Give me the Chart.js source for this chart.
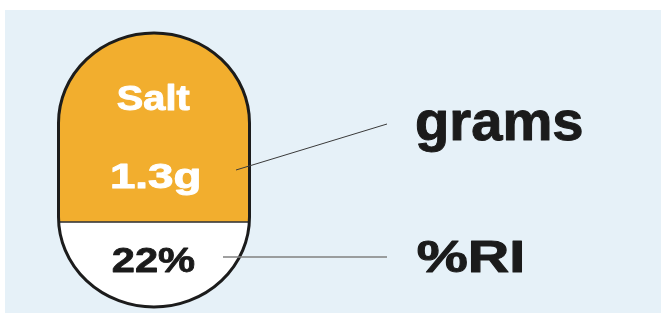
<!DOCTYPE html>
<html>
<head>
<meta charset="utf-8">
<script src="https://cdn.jsdelivr.net/npm/chart.js@4"></script>
<style>
    html, body { margin: 0; padding: 0; background: #fff; }
    #wrap { width: 661px; height: 313px; }
</style>
</head>
<body>
<div id="wrap"><canvas id="grafico" width="661" height="313"></canvas></div>
<script>
// dados do rótulo
const categorias = ['Salt'];
const quantidades = ['1.3g'];
const percentuais = ['22%'];
const parteGramas = [69];   // parte laranja da cápsula
const parteRI = [31];       // parte branca da cápsula
const legendas = ['grams', '%RI'];

const FONTE = '"Liberation Sans", Arial, Helvetica, sans-serif';

function texto(ctx, t, x, y, tam, largura, alinhar, cor, grosso) {
    ctx.font = `bold ${tam}px ${FONTE}`;
    const m = ctx.measureText(t);
    const tinta = m.actualBoundingBoxLeft + m.actualBoundingBoxRight;
    const sx = largura / tinta;
    ctx.save();
    ctx.translate(x, y);
    ctx.scale(sx, 1);
    ctx.fillStyle = cor;
    ctx.strokeStyle = cor;
    ctx.lineWidth = grosso || 0;
    ctx.lineJoin = 'round';
    ctx.textBaseline = 'alphabetic';
    ctx.textAlign = 'left';
    const dx = alinhar === 'center'
        ? -(m.actualBoundingBoxRight - m.actualBoundingBoxLeft) / 2
        : m.actualBoundingBoxLeft;
    ctx.fillText(t, dx, 0);
    if (grosso) ctx.strokeText(t, dx, 0);
    ctx.restore();
}

function capsula(ctx, meta0, meta1, ry) {
    const topo = meta1.data[0];
    const base = meta0.data[0];
    const cx = topo.x, rx = topo.width / 2;
    const y0 = topo.y, y1 = base.base;
    ctx.beginPath();
    ctx.ellipse(cx, y0 + ry, rx, ry, 0, Math.PI, 2 * Math.PI);
    ctx.lineTo(cx + rx, y1 - ry);
    ctx.ellipse(cx, y1 - ry, rx, ry, 0, 0, Math.PI);
    ctx.closePath();
}

const pluginRotulo = {
    id: 'rotulo',
    beforeDraw(chart) {
        const ctx = chart.ctx;
        ctx.save();
        ctx.fillStyle = '#ffffff';
        ctx.fillRect(0, 0, chart.width, chart.height);
        ctx.fillStyle = '#e6f1f8';
        ctx.fillRect(5, 10, chart.width - 5, chart.height - 10);
        ctx.restore();
    },
    beforeDatasetsDraw(chart) {
        const ctx = chart.ctx;
        ctx.save();
        capsula(ctx, chart.getDatasetMeta(0), chart.getDatasetMeta(1), 90);
        ctx.clip();
    },
    afterDatasetsDraw(chart) {
        const ctx = chart.ctx;
        ctx.restore();
        const m0 = chart.getDatasetMeta(0), m1 = chart.getDatasetMeta(1);
        const branco = m0.data[0];
        const cx = branco.x, rx = branco.width / 2;

        // linha divisória
        ctx.save();
        ctx.strokeStyle = '#2a2a2a';
        ctx.lineWidth = 1.5;
        ctx.beginPath();
        ctx.moveTo(cx - rx, branco.y);
        ctx.lineTo(cx + rx, branco.y);
        ctx.stroke();

        // contorno
        capsula(ctx, m0, m1, 90);
        ctx.strokeStyle = '#1c1c1c';
        ctx.lineWidth = 3;
        ctx.stroke();

        // linhas de chamada
        ctx.lineWidth = 1;
        ctx.strokeStyle = '#3a3a3a';
        ctx.beginPath();
        ctx.moveTo(236, 170);
        ctx.lineTo(387, 124);
        ctx.stroke();
        ctx.strokeStyle = '#808080';
        ctx.lineWidth = 1.5;
        ctx.beginPath();
        ctx.moveTo(223, 257);
        ctx.lineTo(387, 257);
        ctx.stroke();
        ctx.restore();

        // textos
        texto(ctx, categorias[0], cx, 110, 35, 72, 'center', '#ffffff', 1);
        texto(ctx, quantidades[0], cx + 2, 188, 35, 87, 'center', '#ffffff', 1);
        texto(ctx, percentuais[0], cx, 272, 35, 82, 'center', '#1b1b1b', 0.8);
        texto(ctx, legendas[0], 417, 140, 55, 165, 'left', '#1b1b1b', 1);
        texto(ctx, legendas[1], 418, 272, 45, 104, 'left', '#1b1b1b', 1);
    }
};

new Chart(document.getElementById('grafico').getContext('2d'), {
    type: 'bar',
    data: {
        labels: categorias,
        datasets: [
            { label: legendas[1], data: parteRI, backgroundColor: '#ffffff', borderWidth: 0, barThickness: 191 },
            { label: legendas[0], data: parteGramas, backgroundColor: '#f2ae2e', borderWidth: 0, barThickness: 191 }
        ]
    },
    options: {
        responsive: false, animation: false,
        layout: { padding: { left: 0, right: 353, top: 33, bottom: 6 } },
        plugins: { legend: { display: false }, tooltip: { enabled: false } },
        scales: {
            x: { stacked: true, display: false },
            y: { stacked: true, display: false, min: 0, max: 100 }
        }
    },
    plugins: [pluginRotulo]
});
</script>
</body>
</html>
